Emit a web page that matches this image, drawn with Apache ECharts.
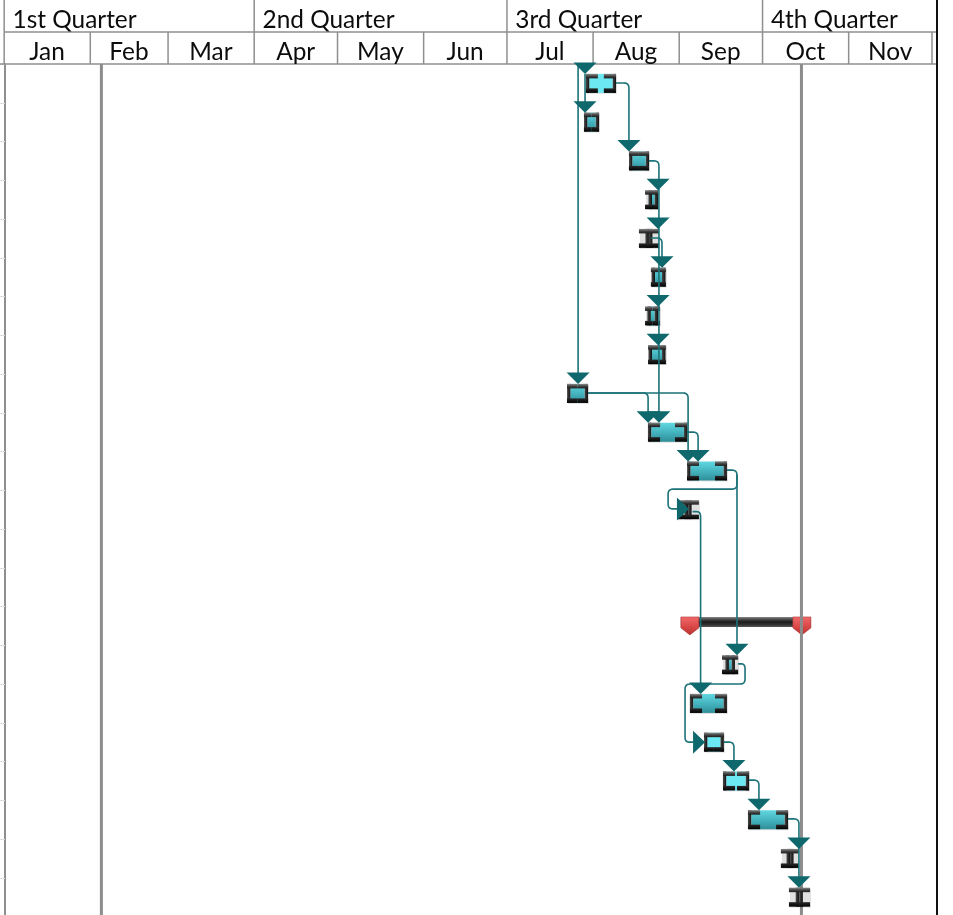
<!DOCTYPE html>
<html>
<head>
<meta charset="utf-8">
<style>html,body{margin:0;padding:0;background:#fff}#c{width:953px;height:915px}</style>
<script src="https://cdn.jsdelivr.net/npm/echarts@6/dist/echarts.min.js"></script>
</head>
<body>
<div id="c"></div>
<script>
// Axis values: days since 1 January
const quarterNames = ['1st Quarter', '2nd Quarter', '3rd Quarter', '4th Quarter'];
const quarterStarts = [0, 90, 181, 273];
const monthNames = ['Jan', 'Feb', 'Mar', 'Apr', 'May', 'Jun', 'Jul', 'Aug', 'Sep', 'Oct', 'Nov'];
const monthStarts = [0, 31, 59, 90, 120, 151, 181, 212, 243, 273, 304, 334];
const dayEnd = 335.5;
const rowEnd = 21.96;
const markerDays = [34.7, 286.7];

// Tasks
const taskRows   = [0, 1, 2, 3, 4, 5, 6, 7, 8, 9, 10, 11, 15, 16, 17, 18, 19, 20, 21];
const taskStarts = [209.1, 208.4, 224.6, 230.4, 228.2, 232.5, 230.4, 231.5, 202.3, 231.5, 245.5, 241.9, 258.1, 246.6, 251.6, 258.5, 267.5, 279.3, 282.2];
const taskEnds   = [219.9, 213.8, 231.8, 235.1, 235.4, 237.9, 235.8, 237.9, 209.9, 245.5, 259.9, 249.8, 263.9, 259.9, 258.8, 267.8, 281.9, 285.8, 289.8];
const fillStarts = [210.4, 209.7, 225.9, 232.9, 231.8, 234.0, 232.5, 232.9, 203.6, 232.7, 246.8, 245.9, 260.6, 247.8, 252.9, 259.7, 268.7, 282.6, 285.9];
const fillEnds   = [218.7, 212.6, 230.6, 233.8, 231.8, 236.5, 233.8, 236.5, 208.6, 244.4, 258.6, 245.9, 261.5, 258.6, 257.5, 266.6, 280.6, 282.6, 285.9];
const taskDone   = [1, 0, 0, 0, 0, 0, 0, 0, 0, 0, 0, 0, 0, 0, 1, 1, 0, 0, 0];

// Summary bar
const summaryRow = 14;
const summaryStart = 243.3;
const summaryEnd = 290.1;

// Dependency routes as [day, row position]
const linkRoutes = [
  [[206.3, 0.03], [206.3, 8.0]],
  [[208.8, 0.26], [208.8, 1.0]],
  [[219.9, 0.49], [224.6, 0.49], [224.6, 1.99]],
  [[231.8, 2.5], [235.4, 2.5], [235.4, 9.0]],
  [[232.5, 4.49], [236.5, 4.49], [236.5, 5.0]],
  [[209.9, 8.49], [231.5, 8.49], [231.5, 9.0]],
  [[209.9, 8.49], [245.9, 8.49], [245.9, 10.01]],
  [[245.5, 9.5], [249.5, 9.5], [249.5, 10.01]],
  [[259.9, 10.48], [263.5, 10.48], [263.5, 15.0]],
  [[263.5, 10.6], [263.5, 10.97], [238.7, 10.97], [238.7, 11.48], [241.9, 11.48]],
  [[247.5, 11.55], [250.4, 11.55], [250.4, 16.0]],
  [[263.9, 15.48], [266.4, 15.48], [266.4, 16.0], [244.8, 16.0], [244.8, 17.5], [247.7, 17.5]],
  [[258.8, 17.5], [262.4, 17.5], [262.4, 17.99]],
  [[267.8, 18.48], [271.4, 18.48], [271.4, 18.99]],
  [[281.9, 19.48], [285.8, 19.48], [285.8, 20.0]],
  [[285.8, 20.0], [285.8, 20.98]]
];
// Arrow tips: day, row position
const arrowDownDays = [208.8, 208.8, 224.6, 235.1, 235.1, 236.5, 235.1, 235.1, 206.3, 231.5, 235.4, 245.9, 249.5, 263.5, 250.4, 262.4, 271.4, 285.8, 285.8];
const arrowDownRows = [0.26, 1.26, 2.26, 3.26, 4.26, 5.26, 6.26, 7.26, 8.26, 9.26, 9.26, 10.26, 10.26, 15.26, 16.26, 18.26, 19.26, 20.26, 21.26];
const arrowRightDays = [246.2, 252.0];
const arrowRightRows = [11.48, 17.5];

const FONT = 'Lato';
const LINE = '#8f8f8f';
const TEAL = '#0f686c';
const LINK = '#1b7278';
const lg = (stops) => new echarts.graphic.LinearGradient(0, 0, 0, 1, stops.map((c, i) => ({offset: i / (stops.length - 1), color: c})));

function rect(x, y, w, h, fill) {
  return {type: 'rect', shape: {x, y, width: w, height: h}, style: {fill}};
}
function vline(api, d, a, b, color, width) {
  const p = api.coord([d, a]), q = api.coord([d, b]);
  return {type: 'line', shape: {x1: p[0], y1: p[1], x2: q[0], y2: q[1]}, style: {stroke: color, lineWidth: width}};
}

function renderTask(params, api) {
  const r = api.value(0), c0 = api.coord([api.value(1), r + 0.5]);
  const x0 = c0[0], x1 = api.coord([api.value(2), r + 0.5])[0];
  const f0 = api.coord([api.value(3), r + 0.5])[0], f1 = api.coord([api.value(4), r + 0.5])[0];
  const done = api.value(5);
  const top = c0[1] - 9.5, h = 19, t = 4.5, stem = 3.5, len = Math.min((x1 - x0) / 2, 12);
  const topFill = lg(['#8c8c8c', '#444444', '#1c1c1c']);
  const botFill = lg(['#2a2a2a', '#000000']);
  const stemFill = new echarts.graphic.LinearGradient(0, 0, 1, 0, [{offset: 0, color: '#4a4a4a'}, {offset: 1, color: '#101010'}]);
  const kids = [];
  kids.push({type: 'rect', shape: {x: x0 + 1, y: top + 1, width: x1 - x0, height: h}, style: {fill: 'rgba(0,0,0,0.12)'}});
  // stems hug the fill
  kids.push(rect(f0 - stem, top, stem, h, stemFill));
  kids.push(rect(f1, top, stem, h, stemFill));
  if (f1 > f0) {
    kids.push(rect(f0, top, f1 - f0, h, done ? '#6ce8f2' : lg(['#62d8e2', '#45b4bf', '#2e8f99'])));
  }
  // start and finish caps
  const capL = Math.max(len, f0 - x0), capR = Math.max(len, x1 - f1);
  kids.push(rect(x0, top, capL, t, topFill));
  kids.push(rect(x1 - capR, top, capR, t, topFill));
  kids.push(rect(x0, top + h - t, capL, t, botFill));
  kids.push(rect(x1 - capR, top + h - t, capR, t, botFill));
  return {type: 'group', children: kids};
}

function renderSummary(params, api) {
  const r = api.value(0), a = api.coord([api.value(1), r + 0.5]), x1 = api.coord([api.value(2), r + 0.5])[0];
  const x0 = a[0], top = a[1] - 9, capW = 18;
  const red = lg(['#f06a6a', '#dc4a4a', '#b83030']);
  const cap = (x) => ({type: 'polygon', shape: {points: [[x, top], [x + capW, top], [x + capW, top + 11], [x + capW / 2, top + 18], [x, top + 11]]},
    style: {fill: red, stroke: 'rgba(170,60,60,0.55)', lineWidth: 1}});
  return {type: 'group', children: [
    rect(x0, top, x1 - x0, 10, lg(['#8a8a8a', '#4a4a4a', '#1c1c1c', '#303030', '#555555'])),
    cap(x0), cap(x1 - capW)
  ]};
}

function renderLink(params, api) {
  const pts = linkRoutes[api.value(0)].map((p) => api.coord(p));
  const out = [pts[0]];
  const R = 5;
  for (let i = 1; i < pts.length - 1; i++) {
    const a = pts[i - 1], b = pts[i], c = pts[i + 1];
    const d1 = Math.hypot(b[0] - a[0], b[1] - a[1]), d2 = Math.hypot(c[0] - b[0], c[1] - b[1]);
    const ra = Math.min(R, d1 / 2), rb = Math.min(R, d2 / 2);
    const s = [b[0] + (a[0] - b[0]) * ra / d1, b[1] + (a[1] - b[1]) * ra / d1];
    const e = [b[0] + (c[0] - b[0]) * rb / d2, b[1] + (c[1] - b[1]) * rb / d2];
    for (let k = 0; k <= 6; k++) {
      const u = k / 6, v = 1 - u;
      out.push([v * v * s[0] + 2 * u * v * b[0] + u * u * e[0], v * v * s[1] + 2 * u * v * b[1] + u * u * e[1]]);
    }
  }
  out.push(pts[pts.length - 1]);
  return {type: 'polyline', shape: {points: out}, style: {stroke: LINK, lineWidth: 1.6, fill: null}};
}

function renderArrowDown(params, api) {
  const p = api.coord([api.value(0), api.value(1)]);
  return {type: 'polygon', shape: {points: [[p[0] - 11.5, p[1] - 11.5], [p[0] + 11.5, p[1] - 11.5], [p[0], p[1]]]}, style: {fill: TEAL}};
}
function renderArrowRight(params, api) {
  const p = api.coord([api.value(0), api.value(1)]);
  return {type: 'polygon', shape: {points: [[p[0] - 12, p[1] - 11.5], [p[0] - 12, p[1] + 11.5], [p[0], p[1]]]}, style: {fill: TEAL}};
}
function renderMarker(params, api) {
  return vline(api, api.value(0), 0, rowEnd, '#8c8c8c', 3);
}
function renderFrame(params, api) {
  return vline(api, dayEnd, 0, 2, '#111', 2);
}
function renderBodyFrame(params, api) {
  return vline(api, dayEnd, 0, rowEnd, '#111', 2);
}
function renderMonth(params, api) {
  const i = api.value(0), d = monthStarts[i];
  const kids = [vline(api, d - 0.3, 1, 2, LINE, 1.5)];
  if (i < monthNames.length) {
    const c = api.coord([(d + monthStarts[i + 1]) / 2, 1.63]);
    kids.push({type: 'text', style: {text: monthNames[i], x: c[0] - 1, y: c[1], textAlign: 'center', textVerticalAlign: 'middle', font: '24.4px ' + FONT, fill: '#0c0c0c'}});
  }
  return {type: 'group', children: kids};
}
function renderQuarter(params, api) {
  const i = api.value(0), d = quarterStarts[i];
  const c = api.coord([d, 0.63]);
  return {type: 'group', children: [
    vline(api, d - 0.3, 0, 1, LINE, 1.5),
    {type: 'text', style: {text: quarterNames[i], x: c[0] + 7.5, y: c[1], textAlign: 'left', textVerticalAlign: 'middle', font: '24.4px ' + FONT, fill: '#0c0c0c'}}
  ]};
}
function renderHeaderRule(params, api) {
  const a = api.coord([0, api.value(0)]), b = api.coord([dayEnd, api.value(0)]);
  return {type: 'line', shape: {x1: a[0] - (api.value(0) === 2 ? 5 : 0), y1: a[1], x2: b[0], y2: b[1]}, style: {stroke: LINE, lineWidth: 1.5}};
}

const idx = (a) => a.map((_, i) => [i]);
const custom = (name, renderItem, data, axis, z) => ({
  type: 'custom', name, renderItem, data, clip: false, silent: true, animation: false, z,
  xAxisIndex: axis, yAxisIndex: axis, encode: {x: [], y: []}
});

const hiddenX = (gridIndex) => ({type: 'value', gridIndex, min: 0, max: dayEnd, show: false});

const option = {
  backgroundColor: '#fff',
  animation: false,
  tooltip: {show: false},
  grid: [
    {left: 5, top: 64, width: 932, height: 851},
    {left: 5, top: 0, width: 932, height: 64}
  ],
  xAxis: [hiddenX(0), hiddenX(1)],
  yAxis: [
    {type: 'value', gridIndex: 0, inverse: true, min: 0, max: rowEnd, interval: 1,
      axisLine: {show: true, lineStyle: {color: LINE, width: 2}},
      axisTick: {show: true, length: 5, lineStyle: {color: '#dcdcdc', width: 1}},
      axisLabel: {show: false}, splitLine: {show: false}},
    {type: 'value', gridIndex: 1, inverse: true, min: 0, max: 2, show: false}
  ],
  series: [
    custom('summary', renderSummary, [[summaryRow, summaryStart, summaryEnd]], 0, 2),
    custom('today', renderMarker, markerDays.map((d) => [d]), 0, 3),
    custom('tasks', renderTask, taskRows.map((r, i) => [r, taskStarts[i], taskEnds[i], fillStarts[i], fillEnds[i], taskDone[i]]), 0, 4),
    custom('links', renderLink, idx(linkRoutes), 0, 5),
    custom('arrowsDown', renderArrowDown, arrowDownDays.map((d, i) => [d, arrowDownRows[i]]), 0, 6),
    custom('arrowsRight', renderArrowRight, arrowRightDays.map((d, i) => [d, arrowRightRows[i]]), 0, 6),
    custom('frame', renderBodyFrame, [[0]], 0, 7),
    custom('rules', renderHeaderRule, [[1], [2]], 1, 2),
    custom('months', renderMonth, idx(monthStarts), 1, 3),
    custom('quarters', renderQuarter, idx(quarterStarts), 1, 3),
    custom('headFrame', renderFrame, [[0]], 1, 7)
  ]
};
const chart = echarts.init(document.getElementById('c'), null, {renderer: 'canvas'});
chart.setOption(option);
</script>
</body>
</html>
